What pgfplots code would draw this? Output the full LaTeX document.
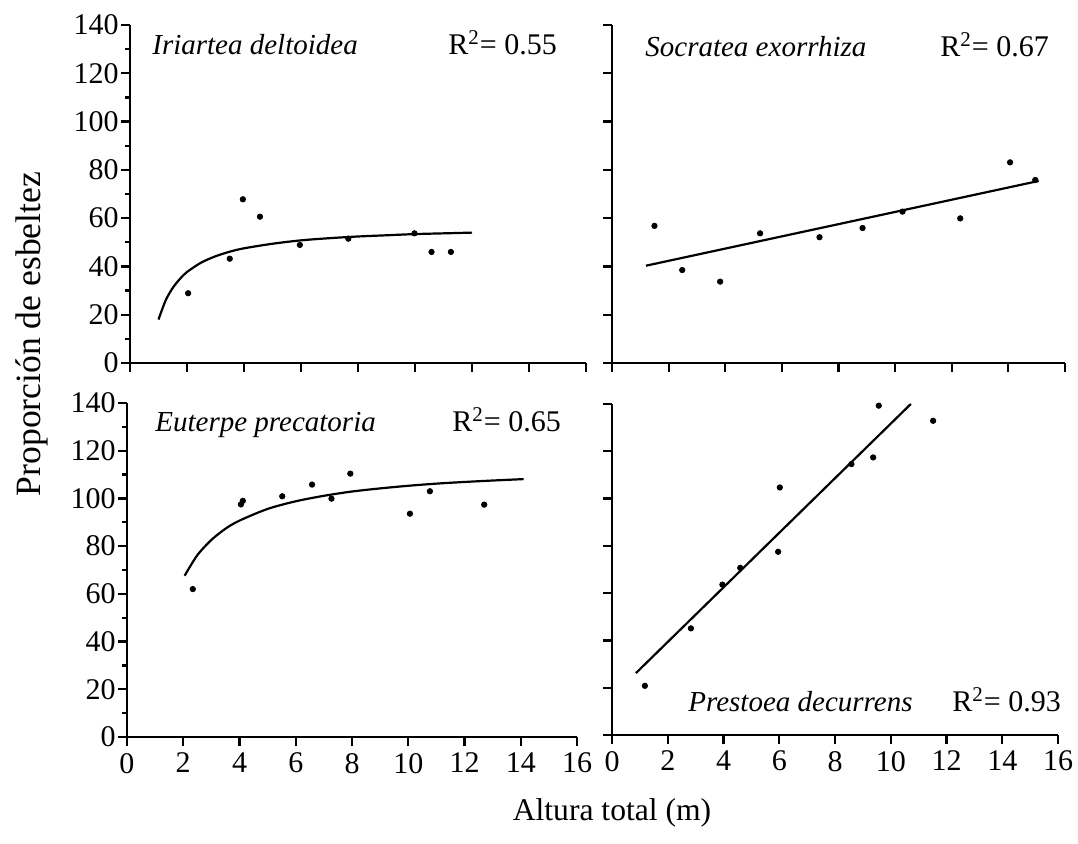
\documentclass[border=0pt]{standalone}
\usepackage{fontspec}
\setmainfont{Liberation Serif}
\usepackage{pgfplots}
\pgfplotsset{compat=1.18}
\begin{document}
\begin{tikzpicture}
\useasboundingbox (0,0) rectangle (539pt,-422pt);
\pgfplotsset{
  panel/.style={
    scale only axis, anchor=south west,
    xmin=0, xmax=16, ymin=0, ymax=140,
    axis lines=left, axis line style={-, line width=1.3pt},
    xtick={0,2,...,16}, ytick={0,20,...,140},
    tick align=outside, major tick length=4.5pt,
    every tick/.style={black, line width=1.1pt},
    clip=false,
    ticklabel style={font=\fontsize{15}{18}\selectfont},
    yticklabel style={inner xsep=1pt},
    /pgf/number format/assume math mode=true,
  },
  leftpanel/.style={minor y tick num=1, minor tick length=2.5pt},
  rightpanel/.style={yticklabels={}},
  toppanel/.style={xticklabels={}},
  pts/.style={only marks, mark=*, mark size=1.35pt, black},
  fit/.style={no marks, black, line width=1.1pt, smooth},
}
% Iriartea deltoidea
\begin{axis}[panel, leftpanel, toppanel, at={(65pt,-181.5pt)}, width=228pt, height=169pt]
\addplot[pts] coordinates {(2.04,28.9) (3.50,43.2) (3.96,67.8) (4.56,60.6) (5.96,48.9) (7.66,51.5) (9.98,53.7) (10.58,46.0) (11.26,46.0)};
\addplot[fit] coordinates {(1.0,18.0) (1.25,25.9) (1.5,31.1) (1.75,34.8) (2,37.7) (2.5,41.6) (3,44.2) (3.5,46.1) (4,47.5) (5,49.4) (6,50.8) (7,51.7) (8,52.4) (9,52.9) (10,53.4) (11,53.7) (12,54.0)};
\end{axis}
% Socratea exorrhiza
\begin{axis}[panel, rightpanel, toppanel, at={(306pt,-181.5pt)}, width=226.5pt, height=169pt]
\addplot[pts] coordinates {(1.50,56.8) (2.48,38.5) (3.82,33.7) (5.23,53.7) (7.33,52.1) (8.85,55.9) (10.26,62.7) (12.30,59.9) (14.06,83.1) (14.95,75.8)};
\addplot[fit] coordinates {(1.20,40.3) (15.07,75.4)};
\end{axis}
% Euterpe precatoria
\begin{axis}[panel, leftpanel, at={(63.5pt,-368.5pt)}, width=225pt, height=167pt]
\addplot[pts] coordinates {(2.34,62.0) (4.05,97.5) (4.12,99.0) (5.52,100.9) (6.58,105.8) (7.27,99.9) (7.94,110.4) (10.06,93.6) (10.77,103.0) (12.70,97.4)};
\addplot[fit] coordinates {(2.05,67.6) (2.5,76.2) (3,82.6) (3.5,87.3) (4,90.7) (5,95.6) (6,98.8) (7,101.1) (8,102.9) (9,104.2) (10,105.3) (11,106.2) (12,106.9) (13,107.5) (14.1,108.1)};
\end{axis}
% Prestoea decurrens
\begin{axis}[panel, rightpanel, at={(306pt,-367.5pt)}, width=223pt, height=165.5pt]
\addplot[pts] coordinates {(1.18,20.8) (2.83,45.1) (3.96,63.6) (4.60,70.7) (5.96,77.5) (6.02,104.7) (8.59,114.6) (9.37,117.4) (9.57,139.3) (11.52,132.9)};
\addplot[fit] coordinates {(0.86,26.2) (10.72,140.0)};
\end{axis}
% annotations
\begin{scope}[every node/.style={font=\fontsize{15}{18}\selectfont, inner sep=0pt}]
\node[anchor=base west, font=\fontsize{14.5}{18}\selectfont\itshape] at (76pt,-27.5pt) {Iriartea deltoidea};
\node[anchor=base west] at (224pt,-27.5pt) {R\textsuperscript{2}= 0.55};
\node[anchor=base west, font=\fontsize{14.5}{18}\selectfont\itshape] at (322.5pt,-28.5pt) {Socratea exorrhiza};
\node[anchor=base west] at (470pt,-28.5pt) {R\textsuperscript{2}= 0.67};
\node[anchor=base west, font=\fontsize{14.5}{18}\selectfont\itshape] at (77.5pt,-216pt) {Euterpe precatoria};
\node[anchor=base west] at (226pt,-216pt) {R\textsuperscript{2}= 0.65};
\node[anchor=base west, font=\fontsize{14.5}{18}\selectfont\itshape] at (344pt,-356pt) {Prestoea decurrens};
\node[anchor=base west] at (476pt,-356pt) {R\textsuperscript{2}= 0.93};
\node[rotate=90, font=\fontsize{17.8}{20}\selectfont] at (16pt,-167pt) {Proporción de esbeltez};
\node[font=\fontsize{15.8}{18}\selectfont] at (306pt,-406.5pt) {Altura total (m)};
\end{scope}
\end{tikzpicture}
\end{document}
